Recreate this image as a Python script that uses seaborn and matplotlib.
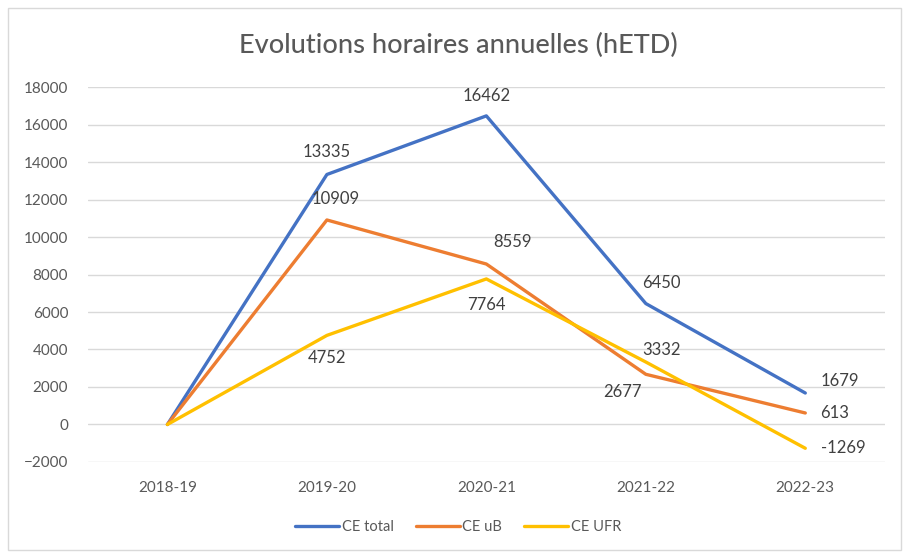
import numpy as np
import pandas as pd
import seaborn as sns
import matplotlib.pyplot as plt
from matplotlib.patches import Rectangle

years = ['2018-19', '2019-20', '2020-21', '2021-22', '2022-23']
ce_total = [0, 13335, 16462, 6450, 1679]
ce_ub = [0, 10909, 8559, 2677, 613]
ce_ufr = [0, 4752, 7764, 3332, -1269]
series_names = ['CE total', 'CE uB', 'CE UFR']

colors = {'CE total': '#4472C4', 'CE uB': '#ED7D31', 'CE UFR': '#FFC000'}

# label offsets in points (Excel-like placement)
offsets = {
    'CE total': [None, (0, 16), (0, 14), (11, 15), (11, 9)],
    'CE uB': [None, (6, 15), (19, 16), (-17, -13), (11, 0)],
    'CE UFR': [None, (0, -16), (0, -19), (11, 9), (11, 0)],
}

df = pd.DataFrame({
    'year': years * 3,
    'x': list(range(len(years))) * 3,
    'value': ce_total + ce_ub + ce_ufr,
    'serie': [s for s in series_names for _ in years],
})

sns.set_style('white')
plt.rcParams['font.family'] = ['Lato', 'DejaVu Sans']

fig = plt.figure(figsize=(9.04, 5.53), dpi=100)
ax = fig.add_axes([0.097, 0.1646, 0.882, 0.678])

sns.lineplot(data=df, x='x', y='value', hue='serie', palette=colors,
             linewidth=2.4, ax=ax, legend=False, sort=False)

for s in series_names:
    sub = df[df['serie'] == s].reset_index(drop=True)
    for i, row in sub.iterrows():
        off = offsets[s][i]
        if off is None:
            continue
        ha = 'left' if (off[0] > 8 and i == 4) else 'center'
        ax.annotate(f"{row['value']}", (row['x'], row['value']),
                    xytext=off, textcoords='offset points',
                    ha=ha, va='center', fontsize=12, color='#404040')

ax.set_xlim(-0.5, 4.5)
ax.set_ylim(-2000, 18000)
ax.set_yticks(range(-2000, 18001, 2000))
ax.set_xticks(range(len(years)))
ax.set_xticklabels(years)
ax.yaxis.grid(True, color='#D9D9D9', linewidth=1)
ax.xaxis.grid(False)
for sp in ax.spines.values():
    sp.set_visible(False)
ax.tick_params(axis='both', length=0, labelsize=11, labelcolor='#595959')
ax.tick_params(axis='y', pad=14)
ax.tick_params(axis='x', pad=14)
ax.set_xlabel('')
ax.set_ylabel('')

fig.text(0.507, 0.918, 'Evolutions horaires annuelles (hETD)', ha='center',
         va='center', fontsize=19.5, color='#595959', fontweight='medium')

handles = [plt.Line2D([], [], color=colors[s], linewidth=2.4) for s in series_names]
fig.legend(handles, series_names, loc='center', bbox_to_anchor=(0.507, 0.047),
           ncol=3, frameon=False, fontsize=10.5, labelcolor='#595959',
           handlelength=3.0, handletextpad=0.2, columnspacing=1.5)

fig.patches.append(Rectangle((0.009, 0.006), 0.988, 0.98, transform=fig.transFigure,
                             fill=False, edgecolor='#D9D9D9', linewidth=1))

fig.savefig('out.png', dpi=100)
